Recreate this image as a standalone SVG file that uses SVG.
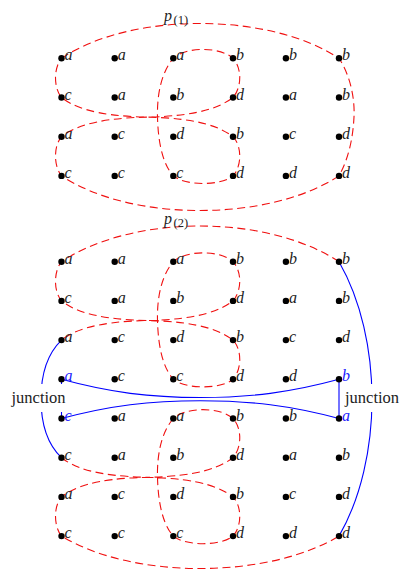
<svg xmlns="http://www.w3.org/2000/svg" width="400" height="571" viewBox="0 0 400 571">
<style>
.red{fill:none;stroke:#f01010;stroke-width:1.1;stroke-dasharray:8 4.5}
.blue{fill:none;stroke:#0000ff;stroke-width:1.1}
.dot{fill:#000}
.lb{font-family:"Liberation Serif","Times New Roman",serif;font-style:italic;font-size:16px;fill:#222}
.lb.bl{fill:#2020ff}
.jt{font-family:"Liberation Serif","Times New Roman",serif;font-size:16.5px;fill:#222}
.pl{font-family:"Liberation Serif","Times New Roman",serif;font-style:italic;font-size:16px;fill:#222}
.sub{font-style:normal;font-size:12.5px}
</style>
<rect width="400" height="571" fill="#fff"/>
<g id="connectors">
<path id="p1" class="red" d="M61.5,58.3 C95,36 145,23.5 200,23.5 C255,23.5 305,36 339,58.3 C350,75 355,98 354,117 C353,137 349,158 339,175.9 C305,198 255,210.5 200,210.5 C145,210.5 95,198 61.5,175.9 C53.5,166 53.5,146 61.5,136.7 C72,128.5 92,118.2 147.25,117.1 C202.5,116 222,105.7 233,97.5 C242,87 242,68 233,58.3 C220,46.5 186,46.5 173.3,58.3 C160,74 157,98 157.5,117.1 C158,137 161,162 173.3,175.9 C185,186 221,186 233,175.9 C242,166 242,146 233,136.7 C222,128.5 202.5,118.2 147.25,117.1 C92,116 72,105.7 61.5,97.5 C53.5,88 53.5,68 61.5,58.3 Z"/>
<path id="p2-upper" class="red" d="M339,261.7 C305,239.4 255,226 200,226 C145,226 95,239.4 61.5,261.7 C53.5,271.4 53.5,291.4 61.5,300.9 C72,309.1 92,319.4 147.25,320.5 C202.5,321.6 222,331.9 233,340.1 C242,349.4 242,369.4 233,379.3 C221,389.4 185,389.4 173.3,379.3 C161,365.4 158,340.4 157.5,320.5 C157,301.4 160,277.4 173.3,261.7 C186,249.9 220,249.9 233,261.7 C242,271.4 242,290.4 233,300.9 C222,309.1 202.5,319.4 147.25,320.5 C92,321.6 72,331.9 61.5,340.1"/>
<path id="p2-lower" class="red" d="M61.5,457.7 C72,465.9 92,476.2 147.25,477.3 C202.5,478.4 222,488.7 233,496.9 C242,506.2 242,526.2 233,536.1 C221,546.2 185,546.2 173.3,536.1 C161,522.2 158,497.2 157.5,477.3 C157,458.2 160,434.2 173.3,418.5 C186,406.7 220,406.7 233,418.5 C242,428.2 242,447.2 233,457.7 C222,465.9 202.5,476.2 147.25,477.3 C92,478.4 72,488.7 61.5,496.9 C53.5,506.2 53.5,526.2 61.5,536.1 C95,556.5 145,568.5 200,568.5 C255,568.5 305,556.5 339,536.1"/>
<path id="blue-left" class="blue" d="M61.5,340.1 C44,357 41,380 41,399 C41,418 44,441 61.5,457.7"/>
<path id="blue-right" class="blue" d="M339,261.7 C361,300 372,350 372,399 C372,448 361,498 339,536.1"/>
<path id="blue-upper" class="blue" d="M61.5,379.3 C110,392.5 150,397.5 200.25,397.5 C250.5,397.5 290.5,392.5 339,379.3"/>
<path id="blue-lower" class="blue" d="M61.5,418.5 C110,405.5 150,400.7 200.25,400.7 C250.5,400.7 290.5,405.5 339,418.5"/>
<path id="blue-vl" class="blue" d="M61.5,379.3 V418.5"/>
<path id="blue-vr" class="blue" d="M339,379.3 V418.5"/>
</g>
<g id="label-p1"><text class="pl" x="164" y="20.5">p<tspan class="sub" dx="1.5" dy="3">(1)</tspan></text></g>
<g id="label-p2"><text class="pl" x="164" y="224">p<tspan class="sub" dx="1.5" dy="3">(2)</tspan></text></g>
<g id="top-grid">
<g id="t11"><circle class="dot" cx="61.5" cy="58.3" r="3.2"/><text class="lb" x="64.5" y="60.3">a</text></g>
<g id="t12"><circle class="dot" cx="114.7" cy="58.3" r="3.2"/><text class="lb" x="117.7" y="60.3">a</text></g>
<g id="t13"><circle class="dot" cx="173.3" cy="58.3" r="3.2"/><text class="lb" x="176.3" y="60.3">a</text></g>
<g id="t14"><circle class="dot" cx="233" cy="58.3" r="3.2"/><text class="lb" x="236" y="60.3">b</text></g>
<g id="t15"><circle class="dot" cx="285.9" cy="58.3" r="3.2"/><text class="lb" x="288.9" y="60.3">b</text></g>
<g id="t16"><circle class="dot" cx="339" cy="58.3" r="3.2"/><text class="lb" x="342" y="60.3">b</text></g>
<g id="t21"><circle class="dot" cx="61.5" cy="97.5" r="3.2"/><text class="lb" x="64.5" y="99.5">c</text></g>
<g id="t22"><circle class="dot" cx="114.7" cy="97.5" r="3.2"/><text class="lb" x="117.7" y="99.5">a</text></g>
<g id="t23"><circle class="dot" cx="173.3" cy="97.5" r="3.2"/><text class="lb" x="176.3" y="99.5">b</text></g>
<g id="t24"><circle class="dot" cx="233" cy="97.5" r="3.2"/><text class="lb" x="236" y="99.5">d</text></g>
<g id="t25"><circle class="dot" cx="285.9" cy="97.5" r="3.2"/><text class="lb" x="288.9" y="99.5">a</text></g>
<g id="t26"><circle class="dot" cx="339" cy="97.5" r="3.2"/><text class="lb" x="342" y="99.5">b</text></g>
<g id="t31"><circle class="dot" cx="61.5" cy="136.7" r="3.2"/><text class="lb" x="64.5" y="138.7">a</text></g>
<g id="t32"><circle class="dot" cx="114.7" cy="136.7" r="3.2"/><text class="lb" x="117.7" y="138.7">c</text></g>
<g id="t33"><circle class="dot" cx="173.3" cy="136.7" r="3.2"/><text class="lb" x="176.3" y="138.7">d</text></g>
<g id="t34"><circle class="dot" cx="233" cy="136.7" r="3.2"/><text class="lb" x="236" y="138.7">b</text></g>
<g id="t35"><circle class="dot" cx="285.9" cy="136.7" r="3.2"/><text class="lb" x="288.9" y="138.7">c</text></g>
<g id="t36"><circle class="dot" cx="339" cy="136.7" r="3.2"/><text class="lb" x="342" y="138.7">d</text></g>
<g id="t41"><circle class="dot" cx="61.5" cy="175.9" r="3.2"/><text class="lb" x="64.5" y="177.9">c</text></g>
<g id="t42"><circle class="dot" cx="114.7" cy="175.9" r="3.2"/><text class="lb" x="117.7" y="177.9">c</text></g>
<g id="t43"><circle class="dot" cx="173.3" cy="175.9" r="3.2"/><text class="lb" x="176.3" y="177.9">c</text></g>
<g id="t44"><circle class="dot" cx="233" cy="175.9" r="3.2"/><text class="lb" x="236" y="177.9">d</text></g>
<g id="t45"><circle class="dot" cx="285.9" cy="175.9" r="3.2"/><text class="lb" x="288.9" y="177.9">d</text></g>
<g id="t46"><circle class="dot" cx="339" cy="175.9" r="3.2"/><text class="lb" x="342" y="177.9">d</text></g>
</g>
<g id="bottom-grid">
<g id="b11"><circle class="dot" cx="61.5" cy="261.7" r="3.2"/><text class="lb" x="64.5" y="263.7">a</text></g>
<g id="b12"><circle class="dot" cx="114.7" cy="261.7" r="3.2"/><text class="lb" x="117.7" y="263.7">a</text></g>
<g id="b13"><circle class="dot" cx="173.3" cy="261.7" r="3.2"/><text class="lb" x="176.3" y="263.7">a</text></g>
<g id="b14"><circle class="dot" cx="233" cy="261.7" r="3.2"/><text class="lb" x="236" y="263.7">b</text></g>
<g id="b15"><circle class="dot" cx="285.9" cy="261.7" r="3.2"/><text class="lb" x="288.9" y="263.7">b</text></g>
<g id="b16"><circle class="dot" cx="339" cy="261.7" r="3.2"/><text class="lb" x="342" y="263.7">b</text></g>
<g id="b21"><circle class="dot" cx="61.5" cy="300.9" r="3.2"/><text class="lb" x="64.5" y="302.9">c</text></g>
<g id="b22"><circle class="dot" cx="114.7" cy="300.9" r="3.2"/><text class="lb" x="117.7" y="302.9">a</text></g>
<g id="b23"><circle class="dot" cx="173.3" cy="300.9" r="3.2"/><text class="lb" x="176.3" y="302.9">b</text></g>
<g id="b24"><circle class="dot" cx="233" cy="300.9" r="3.2"/><text class="lb" x="236" y="302.9">d</text></g>
<g id="b25"><circle class="dot" cx="285.9" cy="300.9" r="3.2"/><text class="lb" x="288.9" y="302.9">a</text></g>
<g id="b26"><circle class="dot" cx="339" cy="300.9" r="3.2"/><text class="lb" x="342" y="302.9">b</text></g>
<g id="b31"><circle class="dot" cx="61.5" cy="340.1" r="3.2"/><text class="lb" x="64.5" y="342.1">a</text></g>
<g id="b32"><circle class="dot" cx="114.7" cy="340.1" r="3.2"/><text class="lb" x="117.7" y="342.1">c</text></g>
<g id="b33"><circle class="dot" cx="173.3" cy="340.1" r="3.2"/><text class="lb" x="176.3" y="342.1">d</text></g>
<g id="b34"><circle class="dot" cx="233" cy="340.1" r="3.2"/><text class="lb" x="236" y="342.1">b</text></g>
<g id="b35"><circle class="dot" cx="285.9" cy="340.1" r="3.2"/><text class="lb" x="288.9" y="342.1">c</text></g>
<g id="b36"><circle class="dot" cx="339" cy="340.1" r="3.2"/><text class="lb" x="342" y="342.1">d</text></g>
<g id="b41"><circle class="dot" cx="61.5" cy="379.3" r="3.2"/><text class="lb bl" x="64.5" y="381.3">a</text></g>
<g id="b42"><circle class="dot" cx="114.7" cy="379.3" r="3.2"/><text class="lb" x="117.7" y="381.3">c</text></g>
<g id="b43"><circle class="dot" cx="173.3" cy="379.3" r="3.2"/><text class="lb" x="176.3" y="381.3">c</text></g>
<g id="b44"><circle class="dot" cx="233" cy="379.3" r="3.2"/><text class="lb" x="236" y="381.3">d</text></g>
<g id="b45"><circle class="dot" cx="285.9" cy="379.3" r="3.2"/><text class="lb" x="288.9" y="381.3">d</text></g>
<g id="b46"><circle class="dot" cx="339" cy="379.3" r="3.2"/><text class="lb bl" x="342" y="381.3">b</text></g>
<g id="b51"><circle class="dot" cx="61.5" cy="418.5" r="3.2"/><text class="lb bl" x="64.5" y="420.5">c</text></g>
<g id="b52"><circle class="dot" cx="114.7" cy="418.5" r="3.2"/><text class="lb" x="117.7" y="420.5">a</text></g>
<g id="b53"><circle class="dot" cx="173.3" cy="418.5" r="3.2"/><text class="lb" x="176.3" y="420.5">a</text></g>
<g id="b54"><circle class="dot" cx="233" cy="418.5" r="3.2"/><text class="lb" x="236" y="420.5">b</text></g>
<g id="b55"><circle class="dot" cx="285.9" cy="418.5" r="3.2"/><text class="lb" x="288.9" y="420.5">b</text></g>
<g id="b56"><circle class="dot" cx="339" cy="418.5" r="3.2"/><text class="lb bl" x="342" y="420.5">a</text></g>
<g id="b61"><circle class="dot" cx="61.5" cy="457.7" r="3.2"/><text class="lb" x="64.5" y="459.7">c</text></g>
<g id="b62"><circle class="dot" cx="114.7" cy="457.7" r="3.2"/><text class="lb" x="117.7" y="459.7">a</text></g>
<g id="b63"><circle class="dot" cx="173.3" cy="457.7" r="3.2"/><text class="lb" x="176.3" y="459.7">b</text></g>
<g id="b64"><circle class="dot" cx="233" cy="457.7" r="3.2"/><text class="lb" x="236" y="459.7">d</text></g>
<g id="b65"><circle class="dot" cx="285.9" cy="457.7" r="3.2"/><text class="lb" x="288.9" y="459.7">a</text></g>
<g id="b66"><circle class="dot" cx="339" cy="457.7" r="3.2"/><text class="lb" x="342" y="459.7">b</text></g>
<g id="b71"><circle class="dot" cx="61.5" cy="496.9" r="3.2"/><text class="lb" x="64.5" y="498.9">a</text></g>
<g id="b72"><circle class="dot" cx="114.7" cy="496.9" r="3.2"/><text class="lb" x="117.7" y="498.9">c</text></g>
<g id="b73"><circle class="dot" cx="173.3" cy="496.9" r="3.2"/><text class="lb" x="176.3" y="498.9">d</text></g>
<g id="b74"><circle class="dot" cx="233" cy="496.9" r="3.2"/><text class="lb" x="236" y="498.9">b</text></g>
<g id="b75"><circle class="dot" cx="285.9" cy="496.9" r="3.2"/><text class="lb" x="288.9" y="498.9">c</text></g>
<g id="b76"><circle class="dot" cx="339" cy="496.9" r="3.2"/><text class="lb" x="342" y="498.9">d</text></g>
<g id="b81"><circle class="dot" cx="61.5" cy="536.1" r="3.2"/><text class="lb" x="64.5" y="538.1">c</text></g>
<g id="b82"><circle class="dot" cx="114.7" cy="536.1" r="3.2"/><text class="lb" x="117.7" y="538.1">c</text></g>
<g id="b83"><circle class="dot" cx="173.3" cy="536.1" r="3.2"/><text class="lb" x="176.3" y="538.1">c</text></g>
<g id="b84"><circle class="dot" cx="233" cy="536.1" r="3.2"/><text class="lb" x="236" y="538.1">d</text></g>
<g id="b85"><circle class="dot" cx="285.9" cy="536.1" r="3.2"/><text class="lb" x="288.9" y="538.1">d</text></g>
<g id="b86"><circle class="dot" cx="339" cy="536.1" r="3.2"/><text class="lb" x="342" y="538.1">d</text></g>
</g>
<g id="junction-left"><rect x="7" y="384" width="63" height="28" fill="#fff"/><text class="jt" x="11.5" y="403.3">junction</text></g>
<g id="junction-right"><rect x="341" y="384" width="59" height="28" fill="#fff"/><text class="jt" x="345" y="403.3">junction</text></g>
</svg>
